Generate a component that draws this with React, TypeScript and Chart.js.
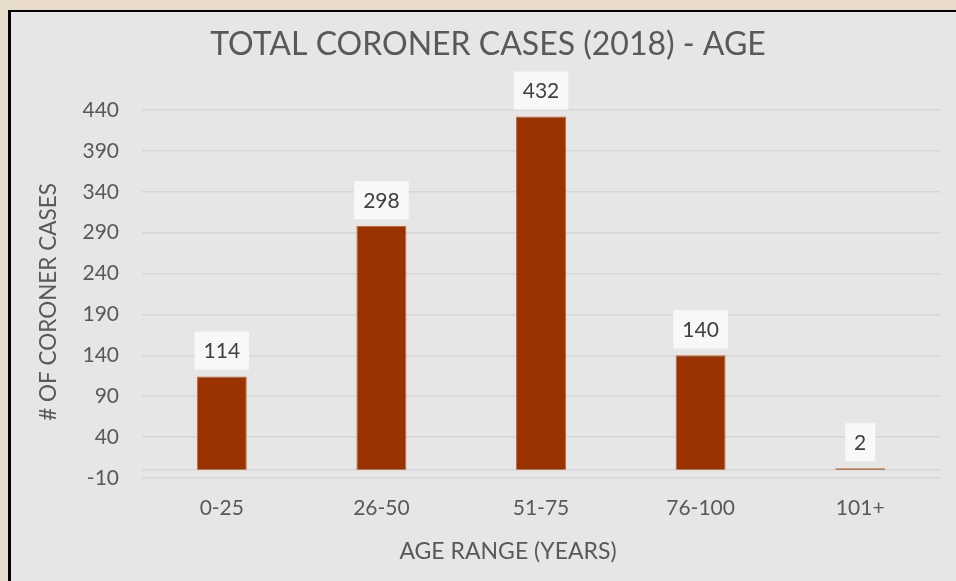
import React, { useEffect, useRef } from "react";
import { Chart, registerables } from "chart.js";

Chart.register(...registerables);

const categories = ["0-25", "26-50", "51-75", "76-100", "101+"];
const cases = [114, 298, 432, 140, 2];
const yTicks = [-10, 40, 90, 140, 190, 240, 290, 340, 390, 440];

const chartTitle = "TOTAL CORONER CASES (2018) - AGE";
const xTitle = "AGE RANGE (YEARS)";
const yTitle = "# OF CORONER CASES";

const FONT = "Lato, 'Open Sans', sans-serif";

const zeroLinePlugin = {
  id: "zeroLine",
  beforeDatasetsDraw(chart: any) {
    const { ctx, chartArea, scales } = chart;
    const y = scales.y.getPixelForValue(0);
    ctx.save();
    ctx.strokeStyle = "#d6d6d6";
    ctx.lineWidth = 1.5;
    ctx.beginPath();
    ctx.moveTo(chartArea.left, y);
    ctx.lineTo(chartArea.right, y);
    ctx.stroke();
    ctx.restore();
  },
};

const titlePlugin = {
  id: "customTitles",
  afterDraw(chart: any) {
    const { ctx } = chart;
    ctx.save();
    ctx.fillStyle = "#595959";
    ctx.textAlign = "center";
    ctx.textBaseline = "middle";
    ctx.font = `32px ${FONT}`;
    ctx.fillText(chartTitle, 488, 45);
    ctx.font = `23px ${FONT}`;
    ctx.fillText(xTitle, 508, 552);
    ctx.translate(49, 302);
    ctx.rotate(-Math.PI / 2);
    ctx.font = `22.5px ${FONT}`;
    ctx.fillText(yTitle, 0, 0);
    ctx.restore();
  },
};

const labelPlugin = {
  id: "boxLabels",
  afterDatasetsDraw(chart: any) {
    const { ctx } = chart;
    const meta = chart.getDatasetMeta(0);
    ctx.save();
    ctx.font = `21px ${FONT}`;
    meta.data.forEach((bar: any, i: number) => {
      const text = String(cases[i]);
      const tw = ctx.measureText(text).width;
      const w = tw + 18;
      const h = 38;
      const bottom = Math.min(bar.y, bar.base) - 7;
      ctx.fillStyle = "#f8f8f8";
      ctx.fillRect(bar.x - w / 2, bottom - h, w, h);
      ctx.fillStyle = "#404040";
      ctx.textAlign = "center";
      ctx.textBaseline = "middle";
      ctx.fillText(text, bar.x, bottom - h / 2 + 1);
    });
    ctx.restore();
  },
};

export default function App() {
  const ref = useRef<HTMLCanvasElement>(null);

  useEffect(() => {
    document.body.style.margin = "0";
    const chart = new Chart(ref.current!, {
      type: "bar",
      data: {
        labels: categories,
        datasets: [
          {
            data: cases,
            backgroundColor: "#9a3300",
            borderColor: "#c0673f",
            borderWidth: 1,
            barPercentage: 0.313,
            categoryPercentage: 1,
          },
        ],
      },
      options: {
        animation: false,
        responsive: false,
        layout: { padding: { top: 110, right: 16, left: 0, bottom: 0 } },
        plugins: {
          legend: { display: false },
          tooltip: { enabled: false },
          title: { display: false },
        },
        scales: {
          x: {
            grid: { display: false },
            border: { display: false },
            ticks: {
              color: "#595959",
              font: { family: FONT, size: 21 },
              padding: 10,
            },
            afterFit(scale: any) {
              scale.height = 103;
            },
          },
          y: {
            min: -10,
            max: 440,
            grid: { color: "#d6d6d6", lineWidth: 1.5, drawTicks: false },
            border: { display: false },
            afterBuildTicks(scale: any) {
              scale.ticks = yTicks.map((v) => ({ value: v }));
            },
            ticks: {
              color: "#595959",
              font: { family: FONT, size: 21 },
              padding: 23,
            },
            afterFit(scale: any) {
              scale.width = 142;
            },
          },
        },
      },
      plugins: [zeroLinePlugin, labelPlugin, titlePlugin],
    });
    return () => chart.destroy();
  }, []);

  return (
    <div style={{ position: "relative", width: 956, height: 581, background: "#e7dccb", overflow: "hidden" }}>
      <div
        style={{
          position: "absolute",
          left: 8,
          top: 10,
          width: 960,
          height: 600,
          background: "#e6e6e6",
          borderLeft: "3px solid #000",
          borderTop: "2px solid #000",
        }}
      />
      <canvas ref={ref} width={956} height={581} style={{ position: "absolute", left: 0, top: 0 }} />
    </div>
  );
}
